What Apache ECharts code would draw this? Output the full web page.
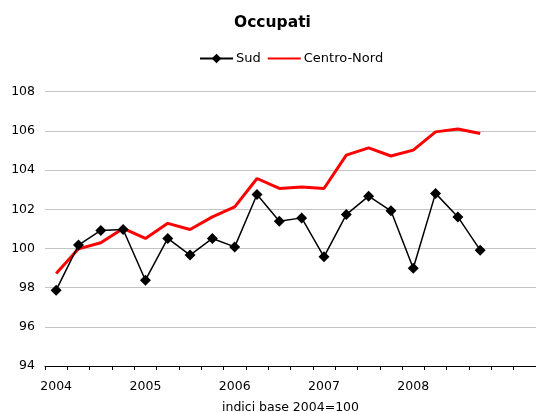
<!DOCTYPE html>
<html>
<head>
<meta charset="utf-8">
<script src="https://cdn.jsdelivr.net/npm/echarts@6/dist/echarts.min.js"></script>
<style>
  html, body { margin: 0; padding: 0; background: #fff; }
  #chart { width: 536px; height: 412px; }
</style>
</head>
<body>
<div id="chart"></div>
<script>
  // quarters 2004 Q1 .. 2009 Q2 (axis runs a bit past the data)
  var quarters = [
    '2004', '', '', '', '2005', '', '', '', '2006', '', '', '',
    '2007', '', '', '', '2008', '', '', '', '', ''
  ];
  var sud = [
    97.87, 100.17, 100.92, 100.97, 98.38, 100.51, 99.66, 100.51, 100.08, 102.75,
    101.39, 101.56, 99.57, 101.73, 102.67, 101.92, 98.99, 102.81, 101.61, 99.91
  ];
  var centroNord = [
    98.72, 99.98, 100.29, 101.02, 100.51, 101.28, 100.97, 101.61, 102.12, 103.57,
    103.06, 103.14, 103.06, 104.76, 105.13, 104.72, 105.02, 105.95, 106.1, 105.87
  ];

  var font = '"DejaVu Sans", Verdana, sans-serif';
  var chart = echarts.init(document.getElementById('chart'));

  chart.setOption({
    backgroundColor: '#fff',
    animation: false,
    title: {
      text: 'Occupati',
      left: 229,
      top: 10,
      textStyle: { fontFamily: font, fontSize: 15.5, fontWeight: 'bold', color: '#000' }
    },
    legend: {
      top: 47,
      left: 194,
      itemWidth: 33,
      itemHeight: 12,
      itemGap: 6,
      textStyle: { fontFamily: font, fontSize: 13, color: '#000', padding: [0, 0, 0, -2] },
      data: [
        'Sud',
        { name: 'Centro-Nord', itemStyle: { color: 'rgba(0,0,0,0)', borderWidth: 0 } }
      ]
    },
    grid: { left: 45, right: 0, top: 91.7, bottom: 46, containLabel: false, outerBoundsMode: 'none' },
    xAxis: {
      type: 'category',
      data: quarters,
      boundaryGap: true,
      name: 'indici base 2004=100',
      nameLocation: 'middle',
      nameGap: 35,
      nameTextStyle: { fontFamily: font, fontSize: 12.5, color: '#000' },
      axisLine: { lineStyle: { color: '#000', width: 1 } },
      axisTick: { show: true, interval: 0, length: 4, lineStyle: { color: '#000' } },
      axisLabel: { interval: 0, margin: 14, fontFamily: font, fontSize: 12.5, color: '#000' },
      splitLine: { show: false }
    },
    yAxis: {
      type: 'value',
      min: 94,
      max: 108,
      interval: 2,
      axisLine: { show: false },
      axisTick: { show: false },
      axisLabel: { margin: 10, fontFamily: font, fontSize: 12.5, color: '#000' },
      splitLine: { lineStyle: { color: '#c4c4c4', width: 1 } }
    },
    series: [
      {
        name: 'Sud',
        type: 'line',
        data: sud,
        z: 3,
        symbol: 'diamond',
        symbolSize: 11,
        itemStyle: { color: '#000' },
        lineStyle: { color: '#000', width: 1.5 }
      },
      {
        name: 'Centro-Nord',
        type: 'line',
        data: centroNord,
        z: 2,
        symbol: 'none',
        itemStyle: { color: '#ff0000' },
        lineStyle: { color: '#ff0000', width: 3 }
      }
    ]
  });
</script>
</body>
</html>
